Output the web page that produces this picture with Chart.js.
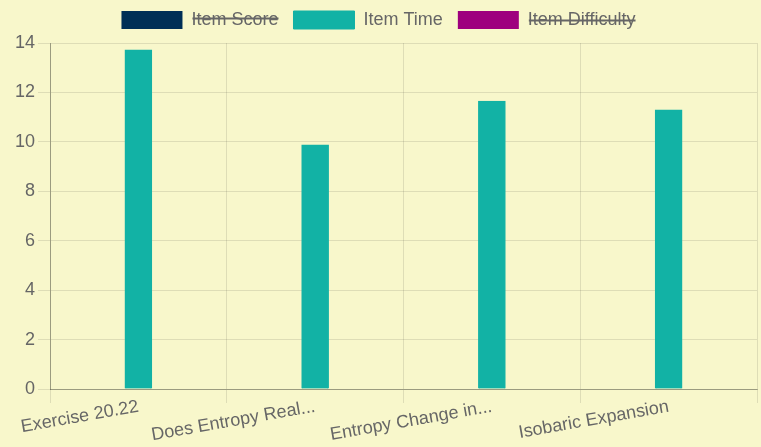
<!DOCTYPE html>
<html>
<head>
<meta charset="utf-8">
<script src="https://cdn.jsdelivr.net/npm/chart.js"></script>
<style>
  body { margin: 0; background: #f8f7cb; }
  #wrap { width: 761px; height: 447px; }
</style>
</head>
<body>
<div id="wrap"><canvas id="itemChart"></canvas></div>
<script>
var labels = ["Exercise 20.22", "Does Entropy Real...", "Entropy Change in...", "Isobaric Expansion"];
var itemScore = [];
var itemTime = [13.72, 9.88, 11.65, 11.3];
var itemDifficulty = [];

Chart.defaults.font.family = "Arial, 'Liberation Sans', sans-serif";
Chart.defaults.color = "#666";

// push the legend a bit higher but keep the plot top where it was
var legendSpace = {
  id: "legendSpace",
  beforeInit: function (chart) {
    var origFit = chart.legend.fit;
    chart.legend.fit = function () {
      origFit.bind(chart.legend)();
      this.height += 4;
    };
  },
};

var ctx = document.getElementById("itemChart").getContext("2d");
var itemChart = new Chart(ctx, {
  type: "bar",
  data: {
    labels: labels,
    datasets: [
      { label: "Item Score", data: itemScore, backgroundColor: "#002f56", hidden: true, barThickness: 27 },
      { label: "Item Time", data: itemTime, backgroundColor: "#12b2a5", borderColor: "#12b2a5", borderWidth: 1, barThickness: 27 },
      { label: "Item Difficulty", data: itemDifficulty, backgroundColor: "#9e007e", hidden: true, barThickness: 27 },
    ],
  },
  plugins: [legendSpace],
  options: {
    responsive: true,
    maintainAspectRatio: false,
    animation: false,
    layout: { padding: { left: 0, right: 4, top: -4, bottom: 0 } },
    plugins: {
      legend: {
        labels: { boxWidth: 61, boxHeight: 18, font: { size: 18 }, padding: 15 },
      },
      tooltip: { enabled: false },
    },
    scales: {
      x: {
        afterFit: function (scale) { scale.height = 58; },
        grid: { color: "rgba(0,0,0,0.1)", tickLength: 14 },
        border: { color: "rgba(0,0,0,0.3)" },
        ticks: { font: { size: 18 }, minRotation: 10, maxRotation: 10, padding: -7 },
      },
      y: {
        afterFit: function (scale) { scale.width = 50; },
        min: 0,
        max: 14,
        grid: { color: "rgba(0,0,0,0.1)", tickLength: 12 },
        border: { color: "rgba(0,0,0,0.3)" },
        ticks: { stepSize: 2, font: { size: 18 }, padding: 3 },
      },
    },
  },
});
</script>
</body>
</html>
